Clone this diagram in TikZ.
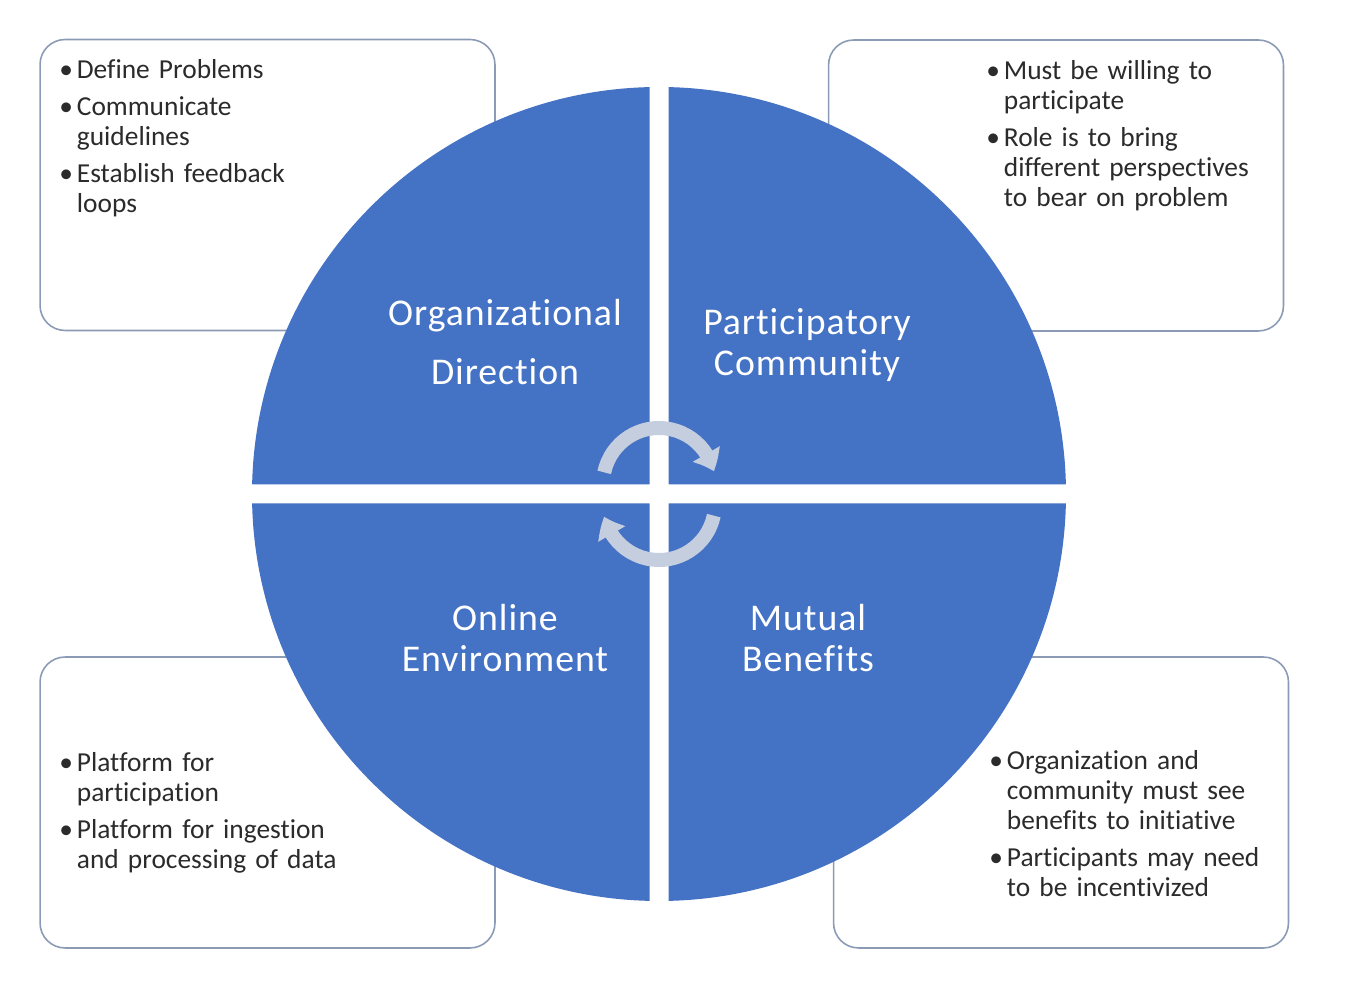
\documentclass[tikz,border=0pt]{standalone}
\usepackage{fontspec}
\setmainfont{Carlito}[Ligatures=NoCommon]
\usetikzlibrary{arrows.meta,bending}
\definecolor{quad}{HTML}{4472C4}
\definecolor{frame}{HTML}{8C9BB5}
\definecolor{loop}{HTML}{C5CEDF}
\definecolor{ink}{HTML}{2B2B2B}
\newcommand{\bul}[1]{\par\parskip=4pt\hangindent=10pt\hangafter=1\noindent\hbox to 10pt{\textbullet\hfil}#1\par}

\begin{document}
\begin{tikzpicture}[x=0.02cm,y=0.02cm,
  panel/.style={draw=frame, line width=0.9pt, fill=white, rounded corners=0.5cm,
    minimum width=9.1cm, minimum height=5.82cm, inner sep=0},
  notes/.style={anchor=base west, inner sep=0, text=ink, text width=6.5cm,
    font=\fontsize{15.6}{17}\selectfont},
  title/.style={anchor=base, inner sep=0, text=white, text width=5.5cm, align=center,
    font=\fontsize{21.5}{23}\selectfont\addfontfeature{LetterSpace=2.5}},
  cycle/.style={draw=loop, line width=0.28cm, -{Triangle[width=0.6cm,length=0.38cm,bend]}}]
\useasboundingbox (0,0) rectangle (1348,990);
\node[panel] (odbox) at (267.5,805) {};
\node[panel] (pcbox) at (1056,804.5) {};
\node[panel] (oebox) at (267.5,187.5) {};
\node[panel] (mbbox) at (1061,187.5) {};
\fill[quad] (659,496) circle (407);
\fill[white] (649.5,80) rectangle (668.5,912)
             (240,486.5) rectangle (1078,505.5);
\node[title, font=\fontsize{21.5}{33.5}\selectfont\addfontfeature{LetterSpace=2.5}] (od) at (505,664) {Organizational\\Direction};
\node[title] (pc) at (807,655) {Participatory\\Community};
\node[title] (oe) at (505,359) {Online\\Environment};
\node[title] (mb) at (808,359) {Mutual\\Benefits};
\draw[cycle] (659,506) ++(168:56) arc[start angle=168, end angle=13, radius=56];
\draw[cycle] (659,486) ++(-12:56) arc[start angle=-12, end angle=-167, radius=56];
\node[notes] (odnotes) at (59,948) {\bul{Define Problems}\bul{Communicate\newline guidelines}\bul{Establish feedback\newline loops}};
\node[notes] (pcnotes) at (986,947) {\bul{Must be willing to\newline participate}\bul{Role is to bring\newline different perspectives\newline to bear on problem}};
\node[notes] (oenotes) at (59,255) {\bul{Platform for\newline participation}\bul{Platform for ingestion\newline and processing of data}};
\node[notes] (mbnotes) at (989,257) {\bul{Organization and\newline community must see\newline benefits to initiative}\bul{Participants may need\newline to be incentivized}};
\end{tikzpicture}
\end{document}
